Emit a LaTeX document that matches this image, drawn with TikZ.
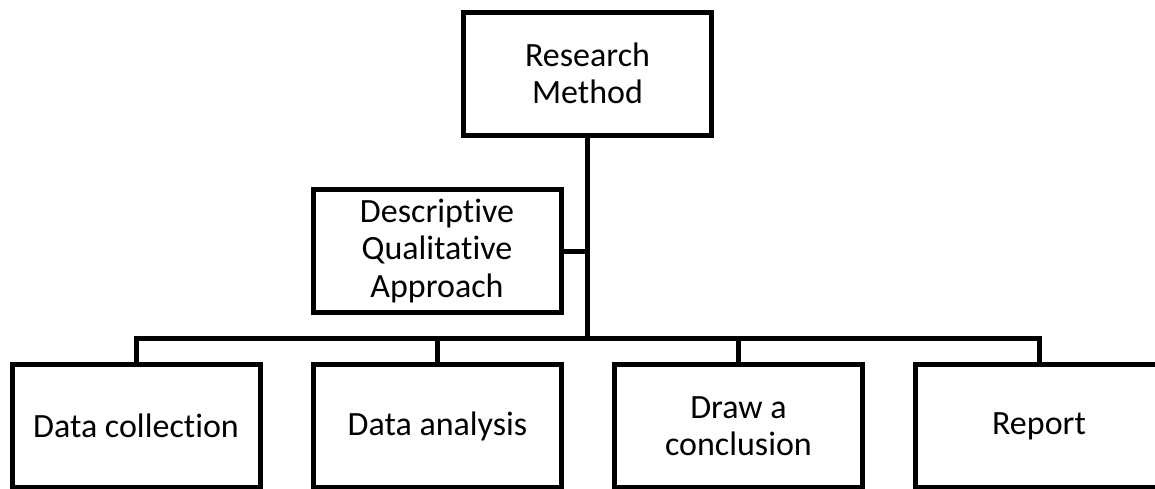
\documentclass[tikz,border=0pt]{standalone}
\usepackage{fontspec}
\setmainfont{Carlito}[Ligatures=NoCommon]
\begin{document}
\begin{tikzpicture}[x=1pt,y=-1pt,
  box/.style={draw=black,line width=5pt,minimum width=248pt,minimum height=123pt,
    inner sep=0pt,align=center,font=\fontsize{34}{37.5}\selectfont},
  conn/.style={draw=black,line width=5pt}]
\clip (0,0) rectangle (1155,488);
\node[box] (top) at (587.5,73.5) {Research\\Method};
\node[box] (desc) at (437,251) {Descriptive\\Qualitative\\Approach};
\node[box] (b1) at (136,426) {Data collection};
\node[box] (b2) at (437.5,426) {Data analysis};
\node[box] (b3) at (738.5,426) {Draw a\\conclusion};
\node[box] (b4) at (1039,426) {Report};
\coordinate (bus) at (0,338);
\draw[conn] (top.south) -- (top.south |- bus);
\draw[conn] (desc.east) -- (desc.east -| top.south);
\draw[conn] (b1.north) |- (b4.north |- bus) -- (b4.north);
\draw[conn] (b2.north) -- (b2.north |- bus);
\draw[conn] (b3.north) -- (b3.north |- bus);
\end{tikzpicture}
\end{document}
